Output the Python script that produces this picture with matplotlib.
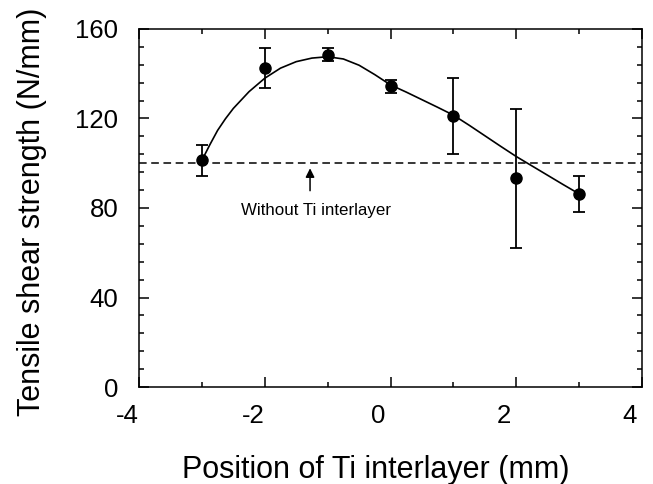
import numpy as np
import matplotlib.pyplot as plt
import matplotlib.transforms as mtransforms
from matplotlib.ticker import MultipleLocator

plt.rcParams['font.family'] = ['Liberation Sans', 'DejaVu Sans']
plt.rcParams['axes.unicode_minus'] = False

# 측정 데이터 (위치, 강도, 오차)
position = [-3, -2, -1, 0, 1, 2, 3]
strength = [101.3, 142.5, 148.5, 134.3, 121.3, 93.2, 86.3]
error = [7, 9, 3, 3, 17, 31, 8]

# 피팅 곡선
curve_x = [-3, -2.875, -2.75, -2.625, -2.5, -2.25, -2, -1.75, -1.5, -1.25, -1, -0.75,
           -0.5, -0.25, 0, 0.25, 0.5, 0.75, 1, 1.25, 1.5, 1.75, 2, 2.25, 2.5, 2.75, 3]
curve_y = [101.3, 108.2, 114.7, 119.9, 124.5, 132, 138, 142.5, 145.4, 147, 147.6, 146.6,
           143.8, 139.6, 135, 131.8, 128.4, 125, 121.5, 117, 112.3, 107.6, 103, 98.8,
           94.6, 90.4, 86.3]

baseline = 100  # Ti 중간층 없음

fig = plt.figure(figsize=(6.53, 4.84), dpi=100)
ax = fig.add_axes([0.2129, 0.2004, 0.7703, 0.7397])

ax.plot(curve_x, curve_y, color='black', lw=1.2)
ax.errorbar(position, strength, yerr=error, fmt='o', color='black', ms=8,
            elinewidth=1.3, capsize=4, capthick=1.3)
ax.axhline(baseline, color='black', lw=1.1, ls=(0, (5, 3)))

ax.annotate('', xy=(-1.28, 99), xytext=(-1.28, 86.5),
            arrowprops=dict(arrowstyle='-|>', color='black', lw=1.1,
                            mutation_scale=13))
ax.text(-1.19, 79, 'Without Ti interlayer', ha='center', va='center', fontsize=12.2)

ax.set_xlim(-4, 4)
ax.set_ylim(0, 160)
ax.xaxis.set_major_locator(MultipleLocator(2))
ax.xaxis.set_minor_locator(MultipleLocator(1))
ax.yaxis.set_major_locator(MultipleLocator(40))
ax.yaxis.set_minor_locator(MultipleLocator(8))
ax.tick_params(which='both', direction='in', top=True, right=True, width=1.1,
               labelsize=18.5)
ax.tick_params(axis='x', pad=12)
ax.tick_params(axis='y', pad=15)
ax.tick_params(which='major', length=7.5)
ax.tick_params(which='minor', length=3.8)
for s in ax.spines.values():
    s.set_linewidth(1.1)

# x 눈금 라벨을 원본처럼 약간 왼쪽으로 이동
shift = mtransforms.ScaledTranslation(-12 / 100, 0, fig.dpi_scale_trans)
for lbl in ax.get_xticklabels():
    lbl.set_transform(lbl.get_transform() + shift)

ax.set_xlabel('Position of Ti interlayer (mm)', fontsize=22)
ax.xaxis.set_label_coords(0.47, -0.19)
ax.set_ylabel('Tensile shear strength (N/mm)', fontsize=22)
ax.yaxis.set_label_coords(-0.183, 0.49)

fig.savefig('out.png', dpi=100)
